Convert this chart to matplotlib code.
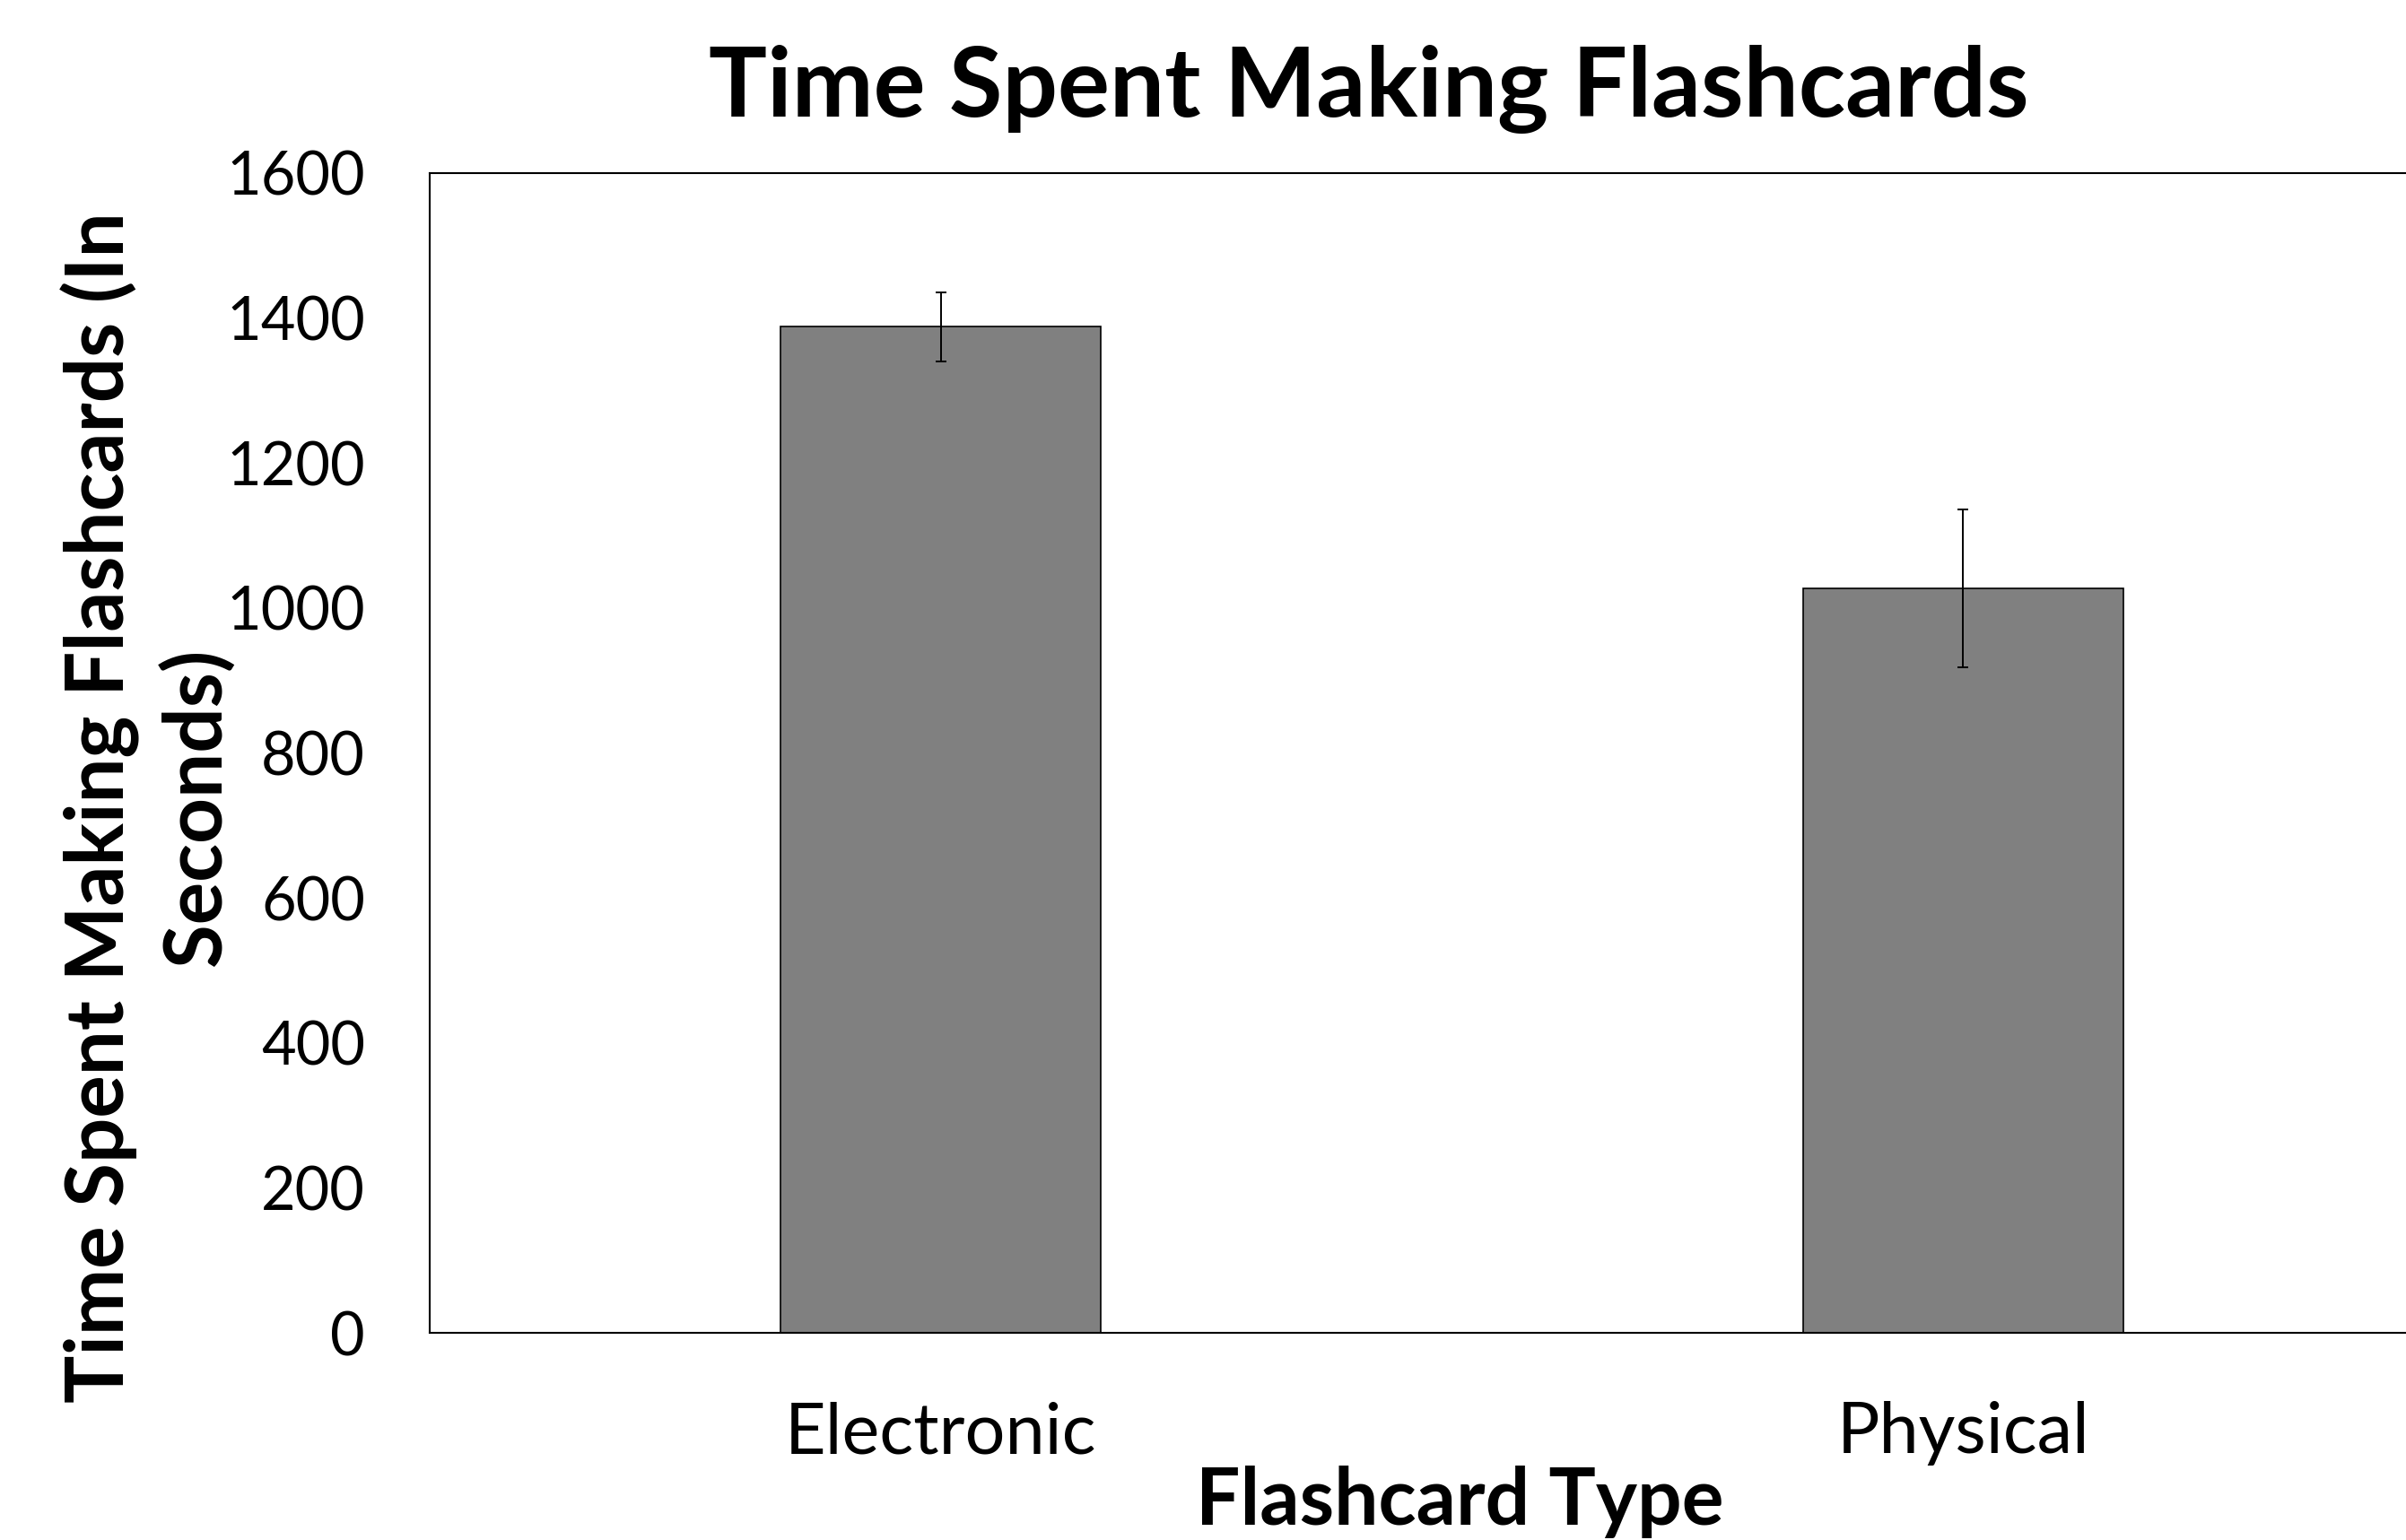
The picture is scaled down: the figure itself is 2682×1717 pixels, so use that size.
import matplotlib
matplotlib.use("Agg")
import matplotlib.pyplot as plt
import numpy as np

# data
categories = ["Electronic", "Physical"]
mean_seconds = [1388, 1027]
err_seconds = [48, 109]
yticks = [0, 200, 400, 600, 800, 1000, 1200, 1400, 1600]

plt.rcParams['font.family'] = ['Lato', 'DejaVu Sans']

fig = plt.figure(figsize=(26.82, 17.17), dpi=100)
# axes runs past the right edge of the figure, as in the original
ax = fig.add_axes([0.1786, 0.1345, 0.8497, 0.7531])

x = np.arange(len(categories))
ax.bar(x, mean_seconds, width=0.313, color='#808080', edgecolor='black', linewidth=1.2,
       yerr=err_seconds, error_kw=dict(ecolor='black', elinewidth=1.4, capsize=4.5, capthick=1.4))

ax.set_xlim(-0.5, 1.5)
ax.set_ylim(0, 1600)
ax.set_yticks(yticks)
ax.set_xticks(x)
ax.set_xticklabels(categories)
ax.tick_params(axis='y', length=0, pad=52, labelsize=48)
ax.tick_params(axis='x', length=0, pad=55, labelsize=57)
for s in ax.spines.values():
    s.set_linewidth(1.5)
    s.set_color('black')

ax.set_xlabel('Flashcard Type', fontsize=63, fontweight='bold', labelpad=0)
ax.xaxis.label.set_x(0.504)
ax.set_ylabel('Time Spent Making Flashcards (In\nSeconds)', fontsize=64, fontweight='bold',
              va='center', ha='center', linespacing=1.3)
ax.yaxis.set_label_coords(-0.138, 0.453)

fig.text(0.569, 0.9243, 'Time Spent Making Flashcards', fontsize=78, fontweight='bold',
         ha='center', va='baseline')

fig.savefig('out.png', dpi=100)
